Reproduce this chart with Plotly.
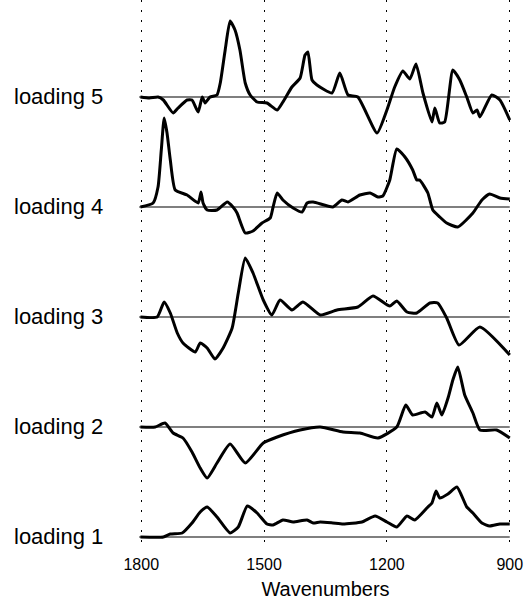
import plotly.graph_objects as go

# ---- data (wavenumber, loading value) ----
wn5 = [1802, 1780, 1759, 1746, 1722, 1710, 1688, 1676, 1661, 1651, 1644, 1632, 1615, 1607, 1595, 1583, 1571, 1559, 1546, 1534,
       1517, 1493, 1468, 1454, 1432, 1412, 1400, 1393, 1383, 1371, 1334, 1315, 1295, 1271, 1224, 1200, 1181, 1161, 1144, 1129,
       1112, 1090, 1083, 1071, 1059, 1039, 1022, 1005, 990, 980, 973, 944, 924, 900]
ld5 = [0, -1, 0, -3, -16, -11, -3, -3, -15, 0, -6, 0, 2, 14, 47, 76, 67, 47, 14, 2,
       -5, -6, -13, -5, 10, 19, 42, 45, 17, 12, 4, 24, 2, 0, -36, -13, 10, 26, 18, 33,
       4, -25, -11, -26, -25, 27, 17, 0, -16, -13, -20, 2, -3, -23]

wn4 = [1802, 1771, 1759, 1751, 1744, 1737, 1729, 1717, 1688, 1661, 1654, 1649, 1639, 1615, 1590, 1576, 1566, 1546, 1527, 1505,
       1485, 1478, 1468, 1454, 1429, 1407, 1395, 1380, 1332, 1310, 1295, 1266, 1241, 1222, 1210, 1193, 1176, 1156, 1137, 1127,
       1120, 1100, 1088, 1071, 1054, 1027, 990, 968, 949, 924, 900]
ld4 = [0, 4, 20, 57, 89, 74, 47, 17, 12, 4, 15, 4, -3, -3, 5, 0, -6, -26, -24, -16,
       -11, 0, 14, 7, -1, -5, 4, 5, 0, 7, 5, 12, 14, 10, 11, 27, 58, 50, 37, 27,
       27, 14, -3, -10, -16, -20, -6, 7, 13, 9, 8]

wn3 = [1802, 1761, 1744, 1729, 1712, 1698, 1668, 1656, 1639, 1620, 1600, 1578, 1563, 1546, 1527, 1502, 1481, 1461, 1432, 1405,
       1363, 1322, 1271, 1234, 1193, 1176, 1151, 1127, 1095, 1076, 1054, 1024, 973, 900]
ld3 = [0, 0, 15, 4, -16, -26, -35, -26, -31, -42, -31, -11, 24, 59, 44, 17, 2, 17, 7, 15,
       2, 7, 10, 21, 11, 16, 5, 4, 14, 14, -1, -28, -10, -38]

wn2 = [1802, 1766, 1742, 1722, 1698, 1676, 1656, 1639, 1615, 1583, 1546, 1502, 1468, 1412, 1363, 1307, 1266, 1222, 1176, 1154,
       1137, 1107, 1090, 1078, 1066, 1050, 1039, 1027, 1010, 990, 973, 932, 900]
ld2 = [0, 0, 4, -6, -11, -25, -41, -51, -36, -17, -36, -16, -10, -3, 0, -5, -6, -11, 0, 22,
       12, 15, 10, 24, 12, 30, 47, 60, 32, 14, -3, -3, -11]

wn1 = [1802, 1746, 1729, 1700, 1676, 1656, 1639, 1615, 1583, 1563, 1541, 1517, 1493, 1478, 1454, 1429, 1395, 1380, 1363, 1332,
       1307, 1261, 1229, 1200, 1176, 1151, 1132, 1100, 1090, 1080, 1071, 1051, 1029, 1005, 990, 968, 949, 924, 900]
ld1 = [0, 0, 3, 4, 14, 25, 30, 20, 4, 10, 31, 24, 13, 12, 17, 15, 17, 14, 15, 14,
       13, 15, 21, 15, 10, 21, 17, 30, 34, 46, 39, 43, 50, 30, 24, 14, 11, 13, 13]

labels = ["loading 1", "loading 2", "loading 3", "loading 4", "loading 5"]
tick_vals = [1800, 1500, 1200, 900]
tick_text = ["1800", "1500", "1200", "900"]

series = [(wn1, ld1), (wn2, ld2), (wn3, ld3), (wn4, ld4), (wn5, ld5)]
offsets = [11, 121, 231, 341, 451]

FONT = "Liberation Sans, Arial"

fig = go.Figure()
for (w, v), off, lab in zip(series, offsets, labels):
    fig.add_shape(type="line", x0=1805, x1=900, y0=off, y1=off, xref="x", yref="y",
                  line=dict(color="black", width=1.2), layer="below")
    fig.add_trace(go.Scatter(x=w, y=[off + val for val in v], mode="lines", name=lab,
                             line=dict(color="black", width=3, shape="spline", smoothing=0.5),
                             showlegend=False, hoverinfo="skip"))
    fig.add_annotation(text=lab, xref="paper", x=(12 - 131) / 389, xanchor="left",
                       yref="y", y=off + 1, yanchor="middle", showarrow=False,
                       font=dict(family=FONT, size=22, color="black"))

fig.update_layout(
    width=532, height=608,
    margin=dict(l=131, r=12, t=0, b=60),
    paper_bgcolor="white", plot_bgcolor="white",
    xaxis=dict(range=[1825, 875], tickvals=tick_vals, ticktext=tick_text,
               showgrid=True, gridcolor="black", gridwidth=1, griddash="2px,8px",
               zeroline=False, showline=False, ticks="", ticklabelstandoff=5,
               tickfont=dict(family=FONT, size=16, color="black"),
               title=dict(text="Wavenumbers", standoff=9,
                          font=dict(family=FONT, size=20, color="black"))),
    yaxis=dict(range=[0, 548], showgrid=False, zeroline=False, showticklabels=False,
               showline=False, ticks=""),
    font=dict(family=FONT, color="black"),
)

fig.write_html("out.html")
